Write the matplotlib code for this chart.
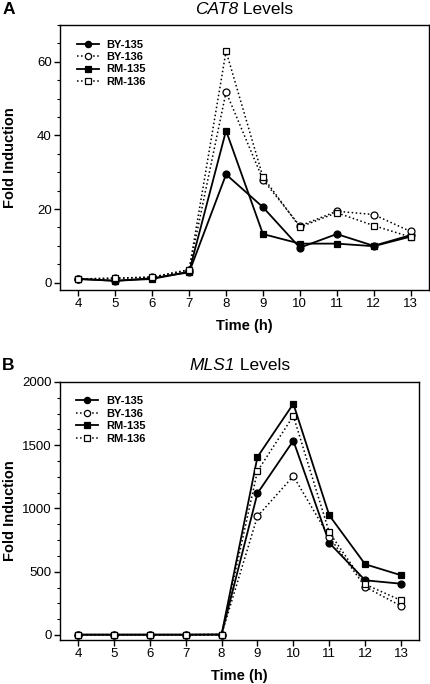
import matplotlib
matplotlib.use("Agg")
import matplotlib.pyplot as plt
from matplotlib.ticker import MultipleLocator

plt.rcParams['font.family'] = ['Liberation Sans', 'DejaVu Sans']

time_h = [4, 5, 6, 7, 8, 9, 10, 11, 12, 13]
series_names = ["BY-135", "BY-136", "RM-135", "RM-136"]

cat8_by135 = [1.0, 0.5, 1.2, 2.8, 29.4, 20.5, 9.5, 13.2, 10.0, 12.9]
cat8_by136 = [1.0, 1.2, 1.5, 3.5, 51.8, 28.0, 15.4, 19.4, 18.5, 13.9]
cat8_rm135 = [1.0, 0.5, 1.0, 3.0, 41.3, 13.2, 10.6, 10.6, 9.9, 12.5]
cat8_rm136 = [1.0, 1.2, 1.5, 3.5, 62.9, 28.7, 15.1, 19.0, 15.5, 12.4]

mls1_by135 = [2, 2, 2, 2, 3, 1120, 1536, 728, 432, 405]
mls1_by136 = [2, 2, 2, 2, 3, 938, 1256, 775, 381, 228]
mls1_rm135 = [2, 2, 2, 2, 3, 1407, 1828, 946, 559, 472]
mls1_rm136 = [2, 2, 2, 2, 3, 1295, 1732, 811, 400, 273]

styles = [
    dict(ls='-', marker='o', mfc='black', lw=1.3),
    dict(ls=':', marker='o', mfc='white', lw=1.1),
    dict(ls='-', marker='s', mfc='black', lw=1.3),
    dict(ls=':', marker='s', mfc='white', lw=1.1),
]

W, H = 431, 684
fig = plt.figure(figsize=(W / 100, H / 100), dpi=100)
renderer = fig.canvas.get_renderer()


def two_part_title(cx, y, italic_part, rest, size):
    t1 = fig.text(0, y, italic_part, fontsize=size, fontstyle='italic',
                  ha='left', va='center')
    t2 = fig.text(0, y, rest, fontsize=size, ha='left', va='center')
    w1 = t1.get_window_extent(renderer).width / W
    w2 = t2.get_window_extent(renderer).width / W
    x0 = cx - (w1 + w2) / 2
    t1.set_x(x0)
    t2.set_x(x0 + w1)


def make_panel(rect, series, ylim, major, minor, gene, letter, title_y, letter_y, ylab_x):
    ax = fig.add_axes(rect)
    for name, vals, st in zip(series_names, series, styles):
        ax.plot(time_h, vals, color='black', linestyle=st['ls'], lw=st['lw'],
                marker=st['marker'], mfc=st['mfc'], mec='black', mew=0.9,
                ms=5.0, label=name)
    ax.set_xlim(3.5, 13.5)
    ax.set_ylim(*ylim)
    ax.set_xticks(time_h)
    ax.yaxis.set_major_locator(MultipleLocator(major))
    ax.yaxis.set_minor_locator(MultipleLocator(minor))
    ax.tick_params(axis='both', which='major', direction='out', length=4,
                   width=1, labelsize=9.5, pad=2)
    ax.tick_params(axis='y', which='minor', direction='out', length=2.5, width=0.8)
    for s in ax.spines.values():
        s.set_linewidth(1.0)
    ax.set_xlabel("Time (h)", fontsize=10.5, fontweight='bold', labelpad=6)
    ax.set_ylabel("Fold Induction", fontsize=10.5, fontweight='bold')
    ax.yaxis.set_label_coords(ylab_x, 0.5)
    ax.legend(loc='upper left', bbox_to_anchor=(0.045, 0.945), frameon=False,
              borderaxespad=0, borderpad=0, handlelength=2.0,
              handletextpad=0.7, labelspacing=0.22, markerscale=0.9,
              prop=dict(size=8, weight='bold'))
    cx = rect[0] + rect[2] / 2
    two_part_title(cx, title_y, gene, " Levels", 12.5)
    fig.text(0.005, letter_y, letter, ha='left', va='center', fontsize=12.5,
             fontweight='bold')
    return ax


axA = make_panel([60 / W, 1 - 290 / H, 369 / W, 265 / H],
                 [cat8_by135, cat8_by136, cat8_rm135, cat8_rm136],
                 (-2, 70), 20, 5, "CAT8", "A", 1 - 10 / H, 1 - 10 / H,
                 (17 - 60) / 369)
axB = make_panel([60 / W, 1 - 640 / H, 359 / W, 258 / H],
                 [mls1_by135, mls1_by136, mls1_rm135, mls1_rm136],
                 (-40, 2000), 500, 125, "MLS1", "B", 1 - 366 / H, 1 - 366 / H,
                 (17 - 60) / 359)

fig.savefig("out.png", dpi=100)
